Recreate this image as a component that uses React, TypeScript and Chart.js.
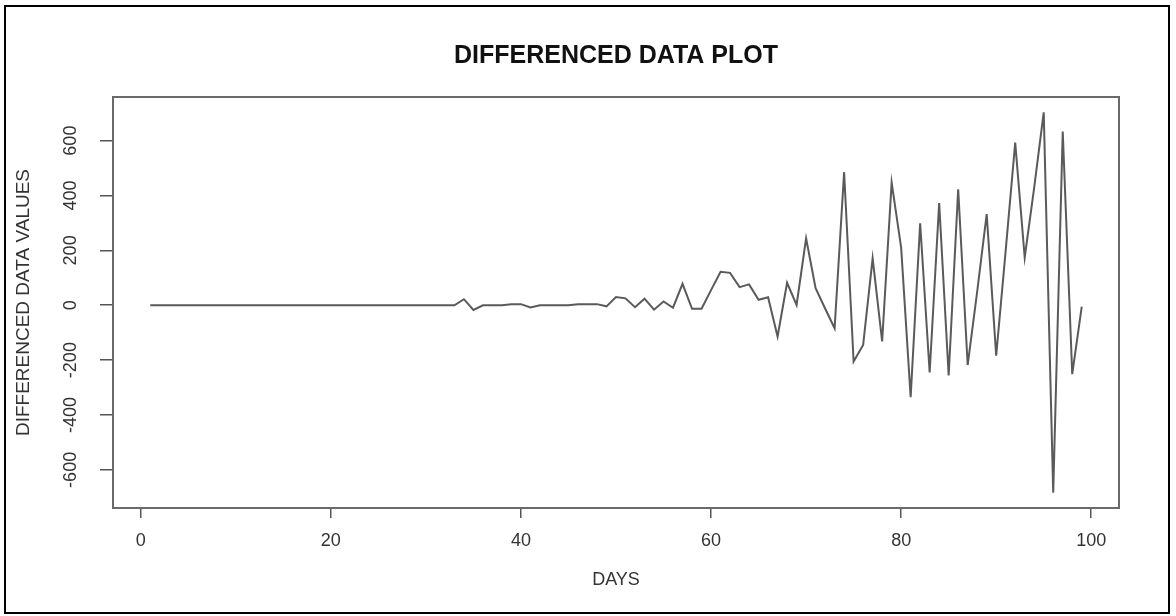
import React, { useEffect, useRef } from "react";
import { Chart, registerables } from "chart.js";

Chart.register(...registerables);

const days: number[] = Array.from({ length: 99 }, (_, i) => i + 1);

const zeroStretch: number[] = [
  0, 0, 0, 0, 0, 0, 0, 0, 0, 0, 0, 0, 0, 0, 0, 0, 0, 0, 0, 0, 0, 0, 0, 0, 0, 0,
  0, 0, 0, 0, 0, 0, 0,
];

const laterValues: number[] = [
  22, -17, 0, 0, 0, 4, 4, -8, 0, 0, 0, 0, 4, 4, 4, -4, 30, 25, -7, 24, -16, 14,
  -9, 78, -13, -13, 55, 122, 118, 66, 76, 20, 29, -114, 82, 1, 244, 62, -12, -84,
  485, -205, -145, 171, -132, 447, 210, -335, 299, -245, 372, -256, 423, -218, 50,
  332, -184, 200, 593, 174, 430, 703, -683, 633, -251, -5,
];

const diffValues: number[] = [...zeroStretch, ...laterValues];

const xTickValues: number[] = [0, 20, 40, 60, 80, 100];
const yTickValues: number[] = [-600, -400, -200, 0, 200, 400, 600];

const titleText = "DIFFERENCED DATA PLOT";
const xTitle = "DAYS";
const yTitle = "DIFFERENCED DATA VALUES";

const NARROW = "'Liberation Sans Narrow', 'Liberation Sans', Arial, sans-serif";
const WIDE = "'Liberation Sans', Arial, sans-serif";

const framePlugin = {
  id: "framePlugin",
  beforeDraw(chart: any) {
    const { ctx, width, height } = chart;
    ctx.save();
    ctx.fillStyle = "#ffffff";
    ctx.fillRect(0, 0, width, height);
    ctx.strokeStyle = "#000000";
    ctx.lineWidth = 2;
    ctx.strokeRect(5, 6, 1164, 607);
    ctx.restore();
  },
  afterDatasetsDraw(chart: any) {
    const { ctx, chartArea } = chart;
    ctx.save();
    ctx.strokeStyle = "#6a6a6a";
    ctx.lineWidth = 2;
    ctx.strokeRect(
      chartArea.left,
      chartArea.top,
      chartArea.right - chartArea.left,
      chartArea.bottom - chartArea.top
    );
    ctx.restore();
  },
};

export default function App() {
  const canvasRef = useRef<HTMLCanvasElement | null>(null);

  useEffect(() => {
    const canvas = canvasRef.current;
    if (!canvas) return;
    const chart = new Chart(canvas, {
      type: "line",
      data: {
        datasets: [
          {
            data: days.map((d, i) => ({ x: d, y: diffValues[i] })),
            borderColor: "#5a5a5a",
            borderWidth: 2,
            pointRadius: 0,
            tension: 0,
            fill: false,
          },
        ],
      },
      options: {
        animation: false,
        responsive: false,
        maintainAspectRatio: false,
        layout: { padding: { left: 0, right: 57, top: 0, bottom: 0 } },
        plugins: {
          legend: { display: false },
          tooltip: { enabled: false },
          title: {
            display: true,
            fullSize: false,
            text: titleText,
            color: "#111111",
            font: { family: WIDE, size: 25, weight: "bold" },
            padding: { top: 41, bottom: 26 },
          },
        },
        scales: {
          x: {
            type: "linear",
            min: -2.92,
            max: 102.92,
            afterBuildTicks: (scale: any) => {
              scale.ticks = xTickValues.map((v) => ({ value: v }));
            },
            afterFit: (scale: any) => {
              scale.height = 108;
            },
            grid: {
              drawOnChartArea: false,
              drawTicks: true,
              tickLength: 10,
              color: "#555555",
              lineWidth: 1.5,
            },
            border: { display: true, color: "#6a6a6a", width: 2 },
            ticks: {
              color: "#333333",
              font: { family: NARROW, size: 18 },
              padding: 12,
              maxRotation: 0,
              autoSkip: false,
            },
            title: {
              display: true,
              text: xTitle,
              color: "#333333",
              font: { family: NARROW, size: 18 },
              padding: { top: 0, bottom: 25 },
            },
          },
          y: {
            type: "linear",
            min: -739,
            max: 759,
            afterBuildTicks: (scale: any) => {
              scale.ticks = yTickValues.map((v) => ({ value: v }));
            },
            afterFit: (scale: any) => {
              scale.width = 113;
            },
            grid: {
              drawOnChartArea: false,
              drawTicks: true,
              tickLength: 13,
              color: "#555555",
              lineWidth: 1.5,
            },
            border: { display: true, color: "#6a6a6a", width: 2 },
            ticks: {
              color: "#333333",
              font: { family: NARROW, size: 18 },
              padding: 11,
              minRotation: 90,
              maxRotation: 90,
              crossAlign: "center",
              autoSkip: false,
            },
            title: {
              display: true,
              text: yTitle,
              color: "#333333",
              font: { family: NARROW, size: 19 },
              padding: { top: 12, bottom: 0 },
            },
          },
        },
      },
      plugins: [framePlugin],
    });
    return () => chart.destroy();
  }, []);

  return (
    <div style={{ position: "absolute", left: 0, top: 0, width: 1176, height: 616 }}>
      <canvas ref={canvasRef} width={1176} height={616} style={{ display: "block" }} />
    </div>
  );
}
